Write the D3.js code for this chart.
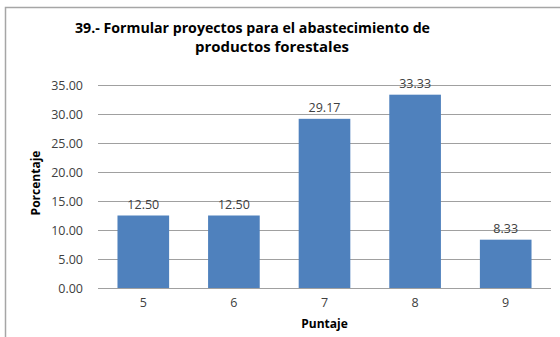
<!DOCTYPE html>
<html><head><meta charset="utf-8">
<script src="https://cdn.jsdelivr.net/npm/d3@7"></script>
<style>body{margin:0;background:#fff}svg{display:block}</style>
</head><body>
<script>
const categories = ["5","6","7","8","9"];
const values = [12.50, 12.50, 29.17, 33.33, 8.33];
const yTicks = [0,5,10,15,20,25,30,35];
const titleLines = ["39.- Formular proyectos para el abastecimiento de", "productos forestales"];
const xTitle = "Puntaje", yTitle = "Porcentaje";

const W=560,H=337;
const svg=d3.select("body").append("svg").attr("width",W).attr("height",H);
const m={l:98,r:9,t:85,b:49};
const x=d3.scaleBand().domain(categories).range([m.l,W-m.r]).paddingInner(0.43).paddingOuter(0.215);
const y=d3.scaleLinear().domain([0,35]).range([H-m.b,m.t]);
const font="'Open Sans', 'Liberation Sans', sans-serif";
const txt="#404040";

// border
svg.append("path").attr("d",`M5.5,${H}V7.5H${W}`).attr("fill","none").attr("stroke","#a6a6a6").attr("stroke-width",1.5);

// title
const tl=svg.selectAll("text.title").data(titleLines).join("text").attr("class","title")
 .attr("x",(d,i)=>i?272:252.5).attr("y",(d,i)=>i?52:33).attr("text-anchor","middle")
 .attr("font-family",font).attr("font-weight","bold").attr("font-size",13).attr("fill","#000").text(d=>d);
tl.each(function(d,i){
  if(!i) return;
  const w=this.getComputedTextLength();
  const fs=13*Math.min(1.15,Math.max(0.85,184/w));
  d3.select(this).attr("font-size",fs);
});
const fs2=+d3.select(tl.nodes()[1]).attr("font-size");
d3.select(tl.nodes()[0]).attr("font-size",fs2).attr("textLength",355).attr("lengthAdjust","spacingAndGlyphs");

// grid
svg.append("g").selectAll("line").data(yTicks).join("line")
 .attr("x1",m.l).attr("x2",W-m.r).attr("y1",d=>Math.round(y(d))+0.5).attr("y2",d=>Math.round(y(d))+0.5)
 .attr("stroke","#a0a0a0").attr("stroke-width",1);

// y axis
const ya=svg.append("g").attr("transform",`translate(${m.l},0)`).call(d3.axisLeft(y).tickValues(yTicks).tickFormat(d3.format(".2f")).tickSize(0).tickPadding(15));
ya.select(".domain").remove();
ya.selectAll("text").attr("font-family",font).attr("font-size",12.5).attr("fill",txt);

// x axis
const xa=svg.append("g").attr("transform",`translate(0,${H-m.b})`).call(d3.axisBottom(x).tickSize(0).tickPadding(10));
xa.select(".domain").remove();
xa.selectAll("text").attr("font-family",font).attr("font-size",12.5).attr("fill",txt);

// bars
svg.append("g").selectAll("rect").data(values).join("rect")
 .attr("x",(d,i)=>x(categories[i])).attr("width",x.bandwidth())
 .attr("y",d=>y(d)).attr("height",d=>y(0)-y(d)).attr("fill","#4f81bd");

// labels
svg.append("g").selectAll("text").data(values).join("text")
 .attr("x",(d,i)=>x(categories[i])+x.bandwidth()/2).attr("y",d=>y(d)-7)
 .attr("text-anchor","middle").attr("font-family",font).attr("font-size",12.5).attr("fill",txt)
 .text(d=>d3.format(".2f")(d));

// axis titles
svg.append("text").attr("x",(m.l+W-m.r)/2).attr("y",328).attr("text-anchor","middle")
 .attr("font-family",font).attr("font-weight","bold").attr("font-size",12).text(xTitle);
svg.append("text").attr("transform","translate(40,183) rotate(-90)").attr("text-anchor","middle")
 .attr("font-family",font).attr("font-weight","bold").attr("font-size",12).text(yTitle);
</script>
</body></html>
